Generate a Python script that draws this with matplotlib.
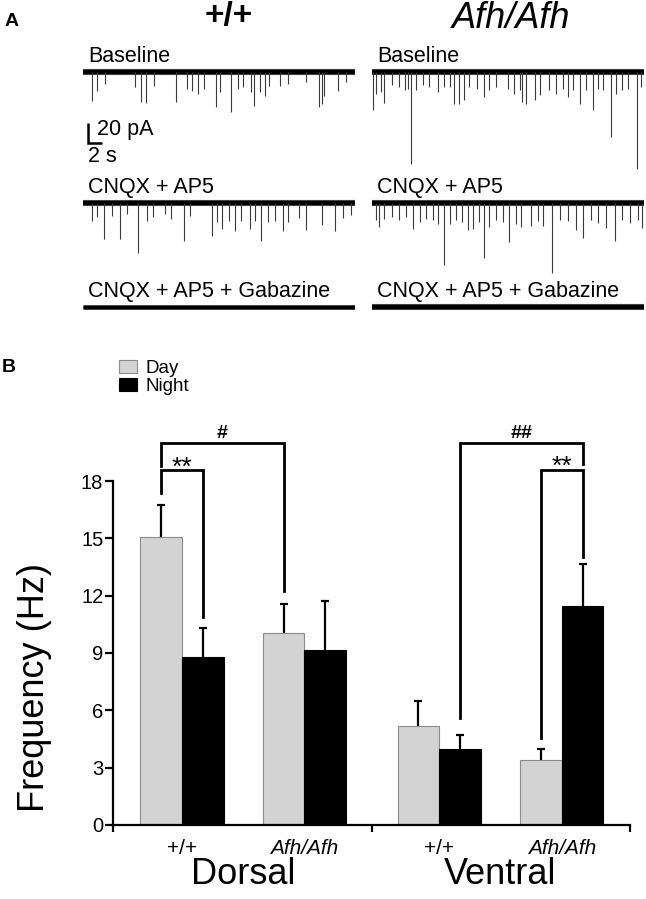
import matplotlib.pyplot as plt
import matplotlib.transforms as mtransforms
import numpy as np

W, H = 646, 899

# ---- panel B: mean sIPSC frequency (Hz) ----
genotypes = ['+/+', 'Afh/Afh', '+/+', 'Afh/Afh']
regions = ['Dorsal', 'Ventral']
group_pos = [0.0, 1.0, 2.1, 3.1]
day_mean = [15.05, 10.05, 5.2, 3.4]
day_sem = [1.7, 1.5, 1.3, 0.6]
night_mean = [8.8, 9.15, 4.0, 11.45]
night_sem = [1.5, 2.55, 0.7, 2.2]

# significance brackets: (left bar, right bar, left leg bottom, right leg bottom, top, label)
brackets = [
    (('day', 0), ('night', 0), 17.35, 10.9, 18.55, '**'),
    (('day', 0), ('day', 1), 18.76, 12.27, 20.0, '#'),
    (('night', 2), ('night', 3), 5.6, 18.9, 20.0, '##'),
    (('day', 3), ('night', 3), 4.55, 14.0, 18.57, '**'),
]

# ---- panel A: sIPSC events (time s, amplitude pA) ----
TRACE_DUR = 40.0
wt_base_t = [1.3, 2.1, 3.2, 7.7, 8.5, 9.3, 10.5, 13.7, 15.3, 16.0, 16.9, 17.8, 19.6, 20.2,
             21.7, 22.8, 23.6, 24.7, 25.2, 26.0, 26.8, 27.3, 29.0, 30.1, 32.8, 34.7, 35.2,
             35.5, 37.5, 38.7]
wt_base_a = [29, 19, 12, 15, 30, 31, 14, 30, 17, 19, 22, 17, 35, 20, 40, 17, 15, 20, 34, 20,
             24, 14, 14, 12, 10, 35, 32, 24, 19, 10]
afh_base_t = [0.2, 0.6, 1.3, 1.8, 3.0, 4.0, 4.8, 5.3, 5.7, 6.5, 7.5, 8.4, 9.7, 10.6, 11.4,
              12.0, 12.8, 13.6, 14.3, 15.5, 16.5, 17.2, 18.2, 20.0, 20.9, 21.7, 22.0, 22.7,
              23.9, 24.7, 26.1, 27.1, 28.1, 28.8, 29.6, 30.6, 31.5, 32.5, 33.2, 34.0, 35.2,
              35.9, 36.7, 37.6, 38.9, 39.6]
afh_base_a = [38, 22, 20, 31, 13, 15, 18, 17, 92, 18, 13, 15, 20, 15, 15, 32, 32, 28, 15, 17,
              25, 18, 15, 17, 22, 18, 30, 32, 28, 23, 18, 22, 17, 25, 18, 32, 18, 38, 17, 18,
              65, 22, 18, 17, 97, 15]
wt_cnqx_t = [1.3, 2.0, 3.1, 4.2, 5.4, 6.4, 8.1, 9.4, 10.3, 12.1, 13.0, 14.9, 15.7, 18.9, 19.7,
             20.5, 21.4, 22.3, 23.3, 24.6, 25.3, 26.2, 27.2, 28.2, 29.4, 30.1, 31.8, 32.8,
             35.2, 37.1, 38.2, 39.4]
wt_cnqx_a = [18, 14, 36, 13, 36, 11, 50, 18, 14, 11, 16, 38, 13, 33, 19, 26, 18, 28, 18, 26,
             18, 38, 19, 18, 28, 19, 15, 27, 22, 28, 15, 12]
afh_cnqx_t = [0.6, 1.0, 1.8, 3.0, 4.0, 5.0, 6.0, 7.0, 7.9, 8.9, 9.7, 10.6, 11.4, 12.4, 13.3,
              14.1, 14.8, 15.7, 16.5, 17.2, 18.2, 19.2, 20.2, 21.2, 21.9, 23.4, 24.4, 25.1,
              26.5, 27.6, 28.8, 30.0, 31.0, 32.2, 33.2, 34.4, 35.7, 36.7, 37.9, 39.1, 39.7]
afh_cnqx_a = [17, 24, 16, 14, 17, 14, 26, 19, 16, 17, 21, 62, 21, 17, 19, 27, 26, 19, 55, 24,
              17, 19, 39, 21, 24, 23, 18, 23, 70, 17, 18, 27, 35, 17, 20, 25, 38, 17, 20, 17, 25]

plt.rcParams['font.family'] = ['Liberation Sans', 'DejaVu Sans']
fig = plt.figure(figsize=(W / 100, H / 100), dpi=100)

TRACE_W = 272  # px, 40 s


def trace_axes(x0, base, depth, up=12):
    # 1 px per pA vertically
    a = fig.add_axes([x0 / W, 1 - (base + depth) / H, TRACE_W / W, (depth + up) / H])
    a.set_xlim(0, TRACE_DUR)
    a.set_ylim(-depth, up)
    a.axis('off')
    return a


def draw_trace(a, t=None, amp=None, lw=3.0):
    a.plot([0, TRACE_DUR], [0, 0], color='#4a4a4a', lw=lw + 1.4, solid_capstyle='butt')
    a.plot([0, TRACE_DUR], [0, 0], color='black', lw=lw, solid_capstyle='butt')
    if t is not None:
        a.vlines(t, -np.asarray(amp), 0, color='#3a3a3a', lw=0.8)


def row_label(a, text):
    a.text(0.7, 15, text, fontsize=15.5, ha='left', va='center', clip_on=False)


cols = [83, 372]
rows = [(72, 'Baseline'), (203, 'CNQX + AP5'), (307, 'CNQX + AP5 + Gabazine')]
events = {(0, 0): (wt_base_t, wt_base_a), (1, 0): (afh_base_t, afh_base_a),
          (0, 1): (wt_cnqx_t, wt_cnqx_a), (1, 1): (afh_cnqx_t, afh_cnqx_a)}

trace_ax = {}
for ci, x0 in enumerate(cols):
    for ri, (base, label) in enumerate(rows):
        a = trace_axes(x0, base, 100 if ri == 0 else 75)
        if (ci, ri) in events:
            t, amp = events[(ci, ri)]
            draw_trace(a, t, amp)
        else:
            draw_trace(a, lw=2.2 if ci == 0 else 3.0)
        row_label(a, label)
        trace_ax[(ci, ri)] = a

# scale bar on the +/+ baseline trace
sb = trace_ax[(0, 0)]
sb.plot([0.75, 0.75, 2.75], [-51, -71, -71], color='black', lw=1.8,
        solid_capstyle='butt', solid_joinstyle='miter', clip_on=False)
sb.text(2.0, -58, '20 pA', fontsize=15.5, ha='left', va='center')
sb.text(0.75, -84, '2 s', fontsize=15.5, ha='left', va='center')

fig.text(12 / W, 1 - 21 / H, 'A', fontsize=14, fontweight='bold', ha='center', va='center')
fig.text(229 / W, 1 - 16 / H, '+/+', fontsize=24, fontweight='bold', ha='center', va='center')
fig.text(511 / W, 1 - 18 / H, 'Afh/Afh', fontsize=26, style='italic', ha='center', va='center')

# ---- panel B ----
BAR_W = 0.34
ax = fig.add_axes([113 / W, 1 - 825 / H, 517 / W, 344 / H])
xd = np.array(group_pos) - BAR_W / 2
xn = np.array(group_pos) + BAR_W / 2
bd = ax.bar(xd, day_mean, BAR_W, color='#d3d3d3', edgecolor='#8c8c8c', lw=0.8,
            label='Day', zorder=2)
bn = ax.bar(xn, night_mean, BAR_W, color='black', edgecolor='black', lw=0.8,
            label='Night', zorder=2)
zeros = np.zeros(len(group_pos))
for xs, means, sems in [(xd, day_mean, day_sem), (xn, night_mean, night_sem)]:
    _, caps, _ = ax.errorbar(xs, means, yerr=[zeros, sems], fmt='none', ecolor='black',
                             elinewidth=1.6, capsize=2.6, capthick=1.6, zorder=1)
    caps[0].set_visible(False)  # only the upper cap is drawn

bar_x = {'day': xd, 'night': xn}
for (s1, i1), (s2, i2), b1, b2, top, label in brackets:
    x1, x2 = bar_x[s1][i1], bar_x[s2][i2]
    ax.plot([x1, x1, x2, x2], [b1, top, top, b2], color='black', lw=2.0,
            solid_joinstyle='miter', clip_on=False)
    if label.startswith('*'):
        ax.text((x1 + x2) / 2, top + 0.15, label, fontsize=19,
                ha='center', va='center', clip_on=False)
    else:
        ax.text((x1 + x2) / 2, top + 0.5, label, fontsize=14, fontweight='bold',
                ha='center', va='center', clip_on=False)

ax.set_xlim(-0.563, 3.657)
ax.set_ylim(0, 18)
ax.set_yticks(np.arange(0, 19, 3))
ax.tick_params(axis='y', length=6, width=1.6, pad=1, labelsize=14.5)
ax.set_xticks(group_pos)
ax.set_xticklabels(genotypes)
ax.tick_params(axis='x', which='major', length=0, pad=10, labelsize=15)
ax.set_xticks([-0.563, 1.551, 3.657], minor=True)
ax.tick_params(axis='x', which='minor', length=5, width=1.6)
for lbl in ax.get_xticklabels():
    if 'Afh' in lbl.get_text():
        lbl.set_style('italic')
for side in ['top', 'right']:
    ax.spines[side].set_visible(False)
for side in ['left', 'bottom']:
    ax.spines[side].set_linewidth(1.6)

trans = mtransforms.blended_transform_factory(ax.transData, ax.transAxes)
for name, x in zip(regions, [(group_pos[0] + group_pos[1]) / 2, (group_pos[2] + group_pos[3]) / 2]):
    ax.text(x, -0.145, name, transform=trans, fontsize=26, ha='center', va='center')

fig.text(35 / W, 1 - 688 / H, 'Frequency (Hz)', rotation=90, fontsize=26,
         ha='center', va='center')
fig.text(9 / W, 1 - 368 / H, 'B', fontsize=14, fontweight='bold', ha='center', va='center')

ax.legend(handles=[bd, bn], loc='upper left', bbox_to_anchor=(119 / W, 1 - 360 / H),
          bbox_transform=fig.transFigure, frameon=False, fontsize=13.5,
          handlelength=0.97, handleheight=0.64, handletextpad=0.45, labelspacing=0.05,
          borderpad=0, borderaxespad=0)

fig.savefig('out.png', dpi=100)
